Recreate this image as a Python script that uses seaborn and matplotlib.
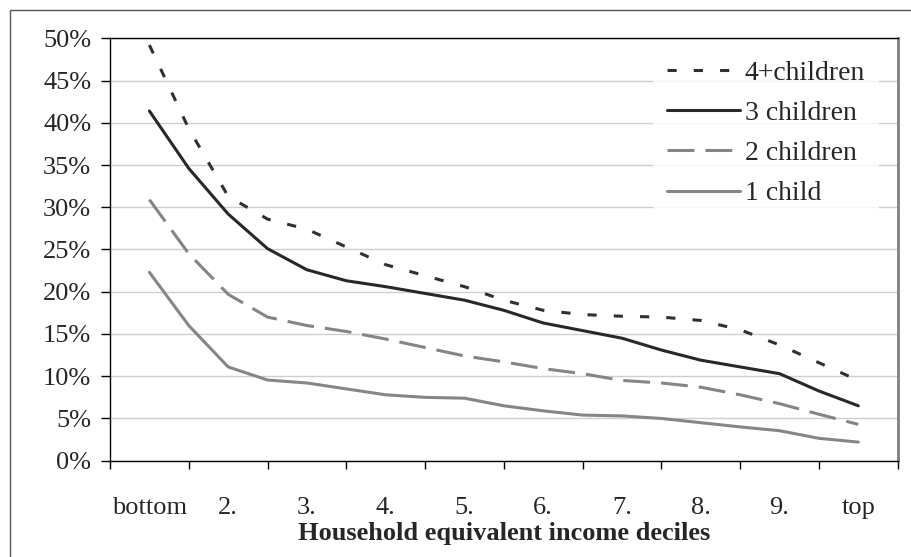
import numpy as np
import pandas as pd
import matplotlib
matplotlib.use("Agg")
import matplotlib.pyplot as plt
import seaborn as sns
from matplotlib.patches import Rectangle
from matplotlib.ticker import FixedLocator, FuncFormatter, NullFormatter

# ---------------- data ----------------
categories = ["bottom", "2.", "3.", "4.", "5.", "6.", "7.", "8.", "9.", "top"]
positions = [1.0, 1.5, 2.0, 2.5, 3.0, 3.5, 4.0, 4.5, 5.0, 5.5,
             6.0, 6.5, 7.0, 7.5, 8.0, 8.5, 9.0, 9.5, 10.0]
four_plus_children = [49.2, 39.3, 31.3, 28.6, 27.4, 25.3, 23.2, 21.9, 20.6, 19.0,
                      17.8, 17.3, 17.1, 17.0, 16.6, 15.5, 13.7, 11.6, 9.5]
three_children = [41.4, 34.6, 29.2, 25.1, 22.6, 21.3, 20.6, 19.8, 19.0, 17.8,
                  16.3, 15.4, 14.5, 13.1, 11.9, 11.1, 10.3, 8.25, 6.5]
two_children = [30.9, 24.5, 19.7, 17.0, 16.0, 15.3, 14.4, 13.4, 12.4, 11.7,
                10.9, 10.3, 9.5, 9.2, 8.7, 7.8, 6.75, 5.5, 4.3]
one_child = [22.3, 16.0, 11.1, 9.55, 9.2, 8.5, 7.8, 7.5, 7.4, 6.5,
             5.9, 5.4, 5.3, 5.0, 4.5, 4.0, 3.55, 2.65, 2.2]
series_names = ["4+children", "3 children", "2 children", "1 child"]
y_ticks = [0, 5, 10, 15, 20, 25, 30, 35, 40, 45, 50]

# ---------------- style ----------------
sns.set_theme(style="white")
plt.rcParams["font.family"] = ["Liberation Serif", "DejaVu Serif"]
plt.rcParams["axes.unicode_minus"] = False

rows = []
for name, vals in zip(series_names, [four_plus_children, three_children, two_children, one_child]):
    for x, v in zip(positions, vals):
        rows.append({"decile": x, "share": v, "series": name})
df = pd.DataFrame(rows)

palette = {"4+children": "#303030", "3 children": "#282828",
           "2 children": "#858585", "1 child": "#868686"}
dashes = {"4+children": (3.0, 5.6), "3 children": "",
          "2 children": (8.8, 3.6), "1 child": ""}

fig = plt.figure(figsize=(9.12, 5.57), dpi=100)
ax = fig.add_axes([110 / 912, 1 - 460.7 / 557, (897.7 - 110) / 912, (460.7 - 38.3) / 557])

sns.lineplot(data=df, x="decile", y="share", hue="series", style="series",
             hue_order=series_names, style_order=series_names,
             palette=palette, dashes=dashes, linewidth=2.2, ax=ax, legend=True)

ax.set_xlim(0.5, 10.5)
ax.set_ylim(0, 50)

# y axis
ax.yaxis.set_major_locator(FixedLocator(y_ticks))
ax.yaxis.set_major_formatter(FuncFormatter(lambda v, p: f"{v:.0f}%"))
ax.tick_params(axis="y", which="major", direction="out", length=6.5, width=1.0,
               labelsize=19, pad=7, color="black", left=True)
ax.grid(axis="y", color="#cfcfcf", linewidth=1.0)
ax.grid(axis="x", visible=False)

# x axis: boundary ticks (major), category labels (minor)
ax.xaxis.set_major_locator(FixedLocator([i + 0.5 for i in range(len(categories) + 1)]))
ax.xaxis.set_major_formatter(NullFormatter())
ax.xaxis.set_minor_locator(FixedLocator([i + 1 for i in range(len(categories))]))
ax.set_xticklabels(categories, minor=True)
ax.tick_params(axis="x", which="major", direction="out", length=5.5, width=1.0,
               color="black", bottom=True)
ax.tick_params(axis="x", which="minor", length=0, labelsize=19, pad=26)

ax.set_xlabel("Household equivalent income deciles", fontsize=19,
              fontweight="bold", labelpad=2.5)
ax.set_ylabel("")

for side in ["left", "bottom", "top"]:
    ax.spines[side].set_color("black")
    ax.spines[side].set_linewidth(1.0)
ax.spines["right"].set_color("#808080")
ax.spines["right"].set_linewidth(2.0)

handles, labels = ax.get_legend_handles_labels()
leg = ax.legend(handles, labels, loc="upper left",
                bbox_to_anchor=(653 / 912, 1 - 46.5 / 557), bbox_transform=fig.transFigure,
                fontsize=20, frameon=True, fancybox=False, borderpad=0.5,
                handlelength=2.63, handletextpad=0.18, labelspacing=0.53,
                borderaxespad=0)
leg.get_frame().set_facecolor("white")
leg.get_frame().set_edgecolor("white")
leg.get_frame().set_linewidth(0)
for line in leg.get_lines():
    line.set_linewidth(2.2)

# outer chart border
fig.add_artist(Rectangle((10 / 912, -0.2), 1.2, 1 - 10 / 557 + 0.2,
                         transform=fig.transFigure, fill=False,
                         edgecolor="#555555", linewidth=1.0))

fig.savefig("out.png", dpi=100)
